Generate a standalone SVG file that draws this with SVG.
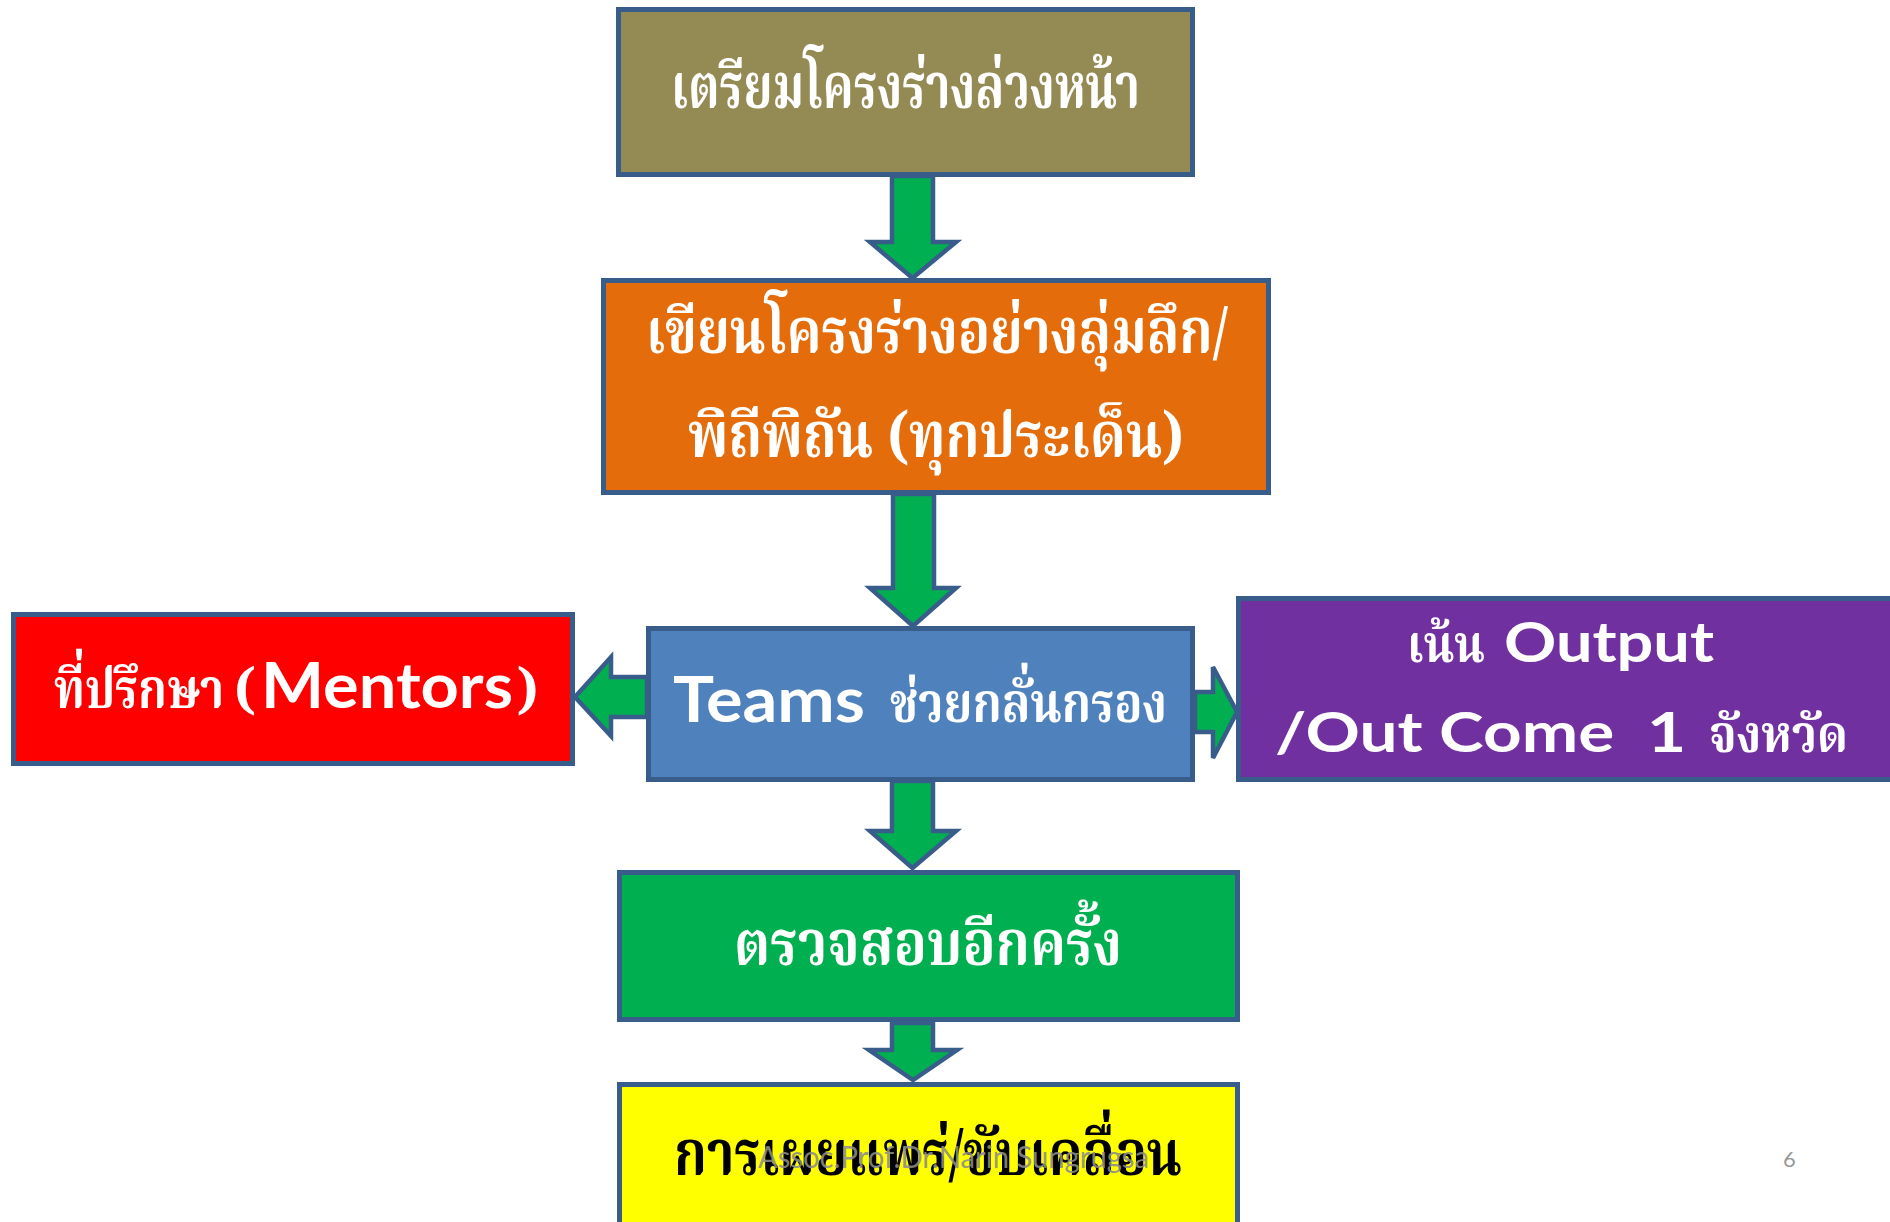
<svg xmlns="http://www.w3.org/2000/svg" width="1890" height="1222" viewBox="0 0 1890 1222">
<style>
.box{stroke:#385D8A;stroke-width:5}
.arr{fill:#00B050;stroke:#385D8A;stroke-width:4.5;stroke-linejoin:miter}
.th{font-family:"Angsana New","TH Sarabun New","Noto Serif Thai","Noto Sans Thai","Norasi","Loma","Garuda",serif;fill:#fff;font-weight:bold}
.la{font-family:Lato,"Open Sans","Liberation Sans",sans-serif;font-weight:bold;fill:#fff}
</style>
<rect width="1890" height="1222" fill="#fff"/>
<g id="node-prepare">
<rect class="box" x="618.5" y="9.5" width="574" height="165" fill="#948A54"/>
<text class="th" x="671" y="108" font-size="62" textLength="469" lengthAdjust="spacingAndGlyphs">เตรียมโครงร่างล่วงหน้า</text>
</g>
<g id="node-write">
<rect class="box" x="603.5" y="280.5" width="665" height="212" fill="#E46C0A"/>
<text class="th" x="646" y="353" font-size="62" textLength="582" lengthAdjust="spacingAndGlyphs">เขียนโครงร่างอย่างลุ่มลึก/</text>
<text class="th" x="688" y="457" font-size="62" textLength="496" lengthAdjust="spacingAndGlyphs">พิถีพิถัน (ทุกประเด็น)</text>
</g>
<g id="node-teams">
<rect class="box" x="648.5" y="628.5" width="544" height="151" fill="#4F81BD"/>
<text class="la" x="673" y="722" font-size="63" textLength="192" lengthAdjust="spacingAndGlyphs">Teams</text>
<text class="th" x="890" y="722" font-size="56" textLength="277" lengthAdjust="spacingAndGlyphs">ช่วยกลั่นกรอง</text>
</g>
<g id="node-mentors">
<rect class="box" x="13.5" y="614.5" width="559" height="149" fill="#FF0000"/>
<text class="th" x="54" y="708" font-size="56"><tspan x="54" textLength="170" lengthAdjust="spacingAndGlyphs">ที่ปรึกษา</tspan><tspan x="234" font-size="54">(</tspan><tspan x="261" class="la" font-size="63" textLength="252" lengthAdjust="spacingAndGlyphs">Mentors</tspan><tspan x="517" font-size="54">)</tspan></text>
</g>
<g id="node-output">
<rect class="box" x="1238.5" y="598.5" width="660" height="181" fill="#7030A0"/>
<text class="th" x="1407" y="662" font-size="52" textLength="78" lengthAdjust="spacingAndGlyphs">เน้น</text>
<text class="la" x="1504" y="662" font-size="56" textLength="210" lengthAdjust="spacingAndGlyphs">Output</text>
<text class="la" x="1275" y="752" font-size="56" textLength="411" lengthAdjust="spacingAndGlyphs" xml:space="preserve">/Out Come  1</text>
<text class="th" x="1709" y="752" font-size="52" textLength="139" lengthAdjust="spacingAndGlyphs">จังหวัด</text>
</g>
<g id="node-check">
<rect class="box" x="619.5" y="872.5" width="618" height="147" fill="#00B050"/>
<text class="th" x="734" y="965" font-size="62" textLength="388" lengthAdjust="spacingAndGlyphs">ตรวจสอบอีกครั้ง</text>
</g>
<g id="node-publish">
<rect class="box" x="619.5" y="1084.5" width="618" height="200" fill="#FFFF00"/>
<text class="th" x="674" y="1175" font-size="62" textLength="508" lengthAdjust="spacingAndGlyphs" style="fill:#000">การเผยแพร่/ขับเคลื่อน</text>
</g>
<g id="connectors">
<polygon class="arr" points="892,176 933,176 933,242 956,242 912.5,278 870,242 892,242"/>
<polygon class="arr" points="893,494 934,494 934,588 956,588 913,626 870,588 893,588"/>
<polygon class="arr" points="892,781 933,781 933,831 956,831 912.5,868 870,831 892,831"/>
<polygon class="arr" points="892,1023 933,1023 933,1050 957,1050 913,1080 869,1050 892,1050"/>
<polygon class="arr" points="647,677 611,677 611,657 575,697 611,736 611,717 647,717"/>
<polygon class="arr" points="1195,692 1213,692 1213,667 1237,712 1213,758 1213,732 1195,732"/>
</g>
<text x="758" y="1168" font-family="Lato,'Liberation Sans',sans-serif" font-size="30" fill="#8C8C8C" fill-opacity="0.9" textLength="391" lengthAdjust="spacingAndGlyphs">Assoc.Prof.Dr.Narin Sungrugsa</text>
<text x="1783" y="1167" font-family="Lato,'Liberation Sans',sans-serif" font-size="22" fill="#999">6</text>
</svg>
